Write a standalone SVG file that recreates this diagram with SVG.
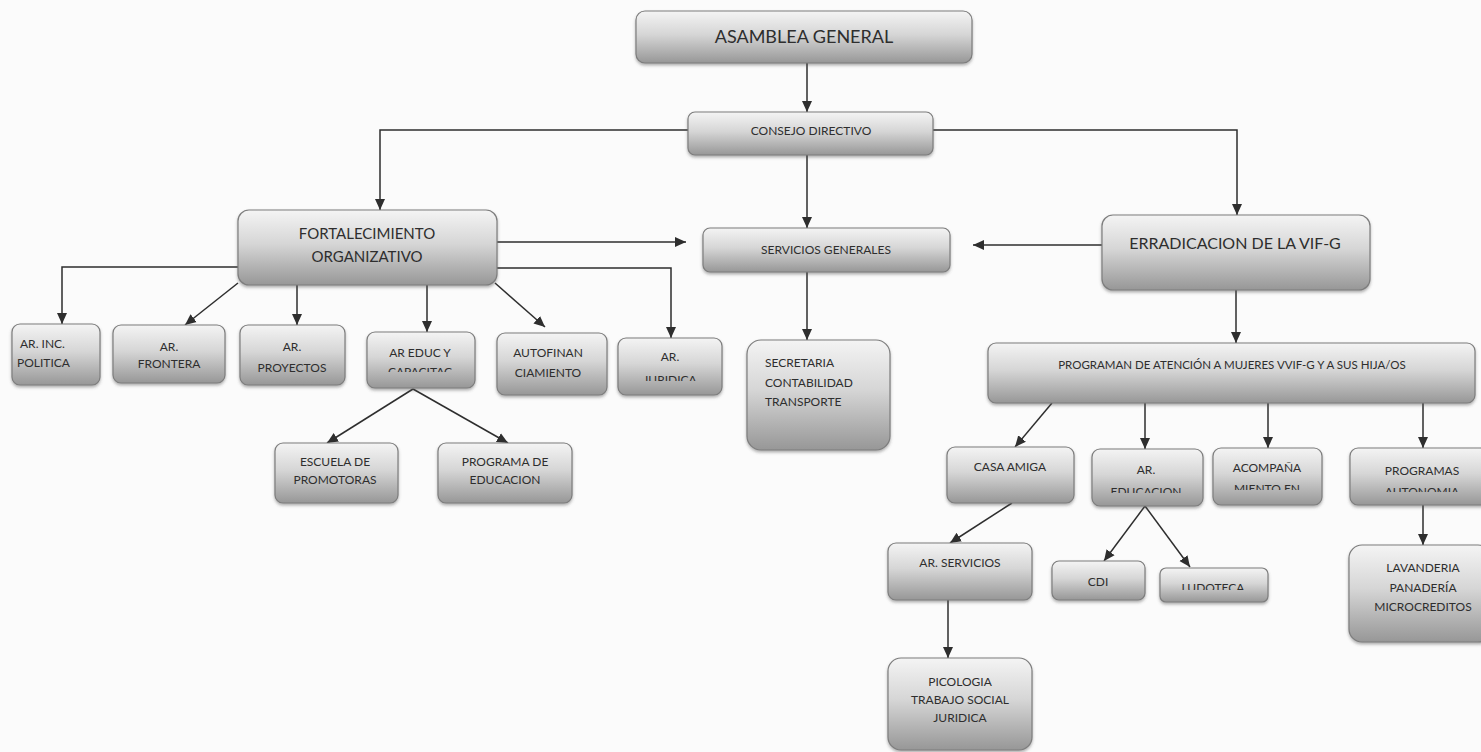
<svg xmlns="http://www.w3.org/2000/svg" width="1481" height="752" viewBox="0 0 1481 752">
<defs>
<linearGradient id="g" x1="0" y1="0" x2="0" y2="1">
<stop offset="0" stop-color="#f4f4f4"/>
<stop offset="0.45" stop-color="#d6d6d6"/>
<stop offset="1" stop-color="#979797"/>
</linearGradient>
<filter id="sh" x="-10%" y="-10%" width="120%" height="130%">
<feDropShadow dx="0" dy="2" stdDeviation="1.5" flood-color="#555" flood-opacity="0.45"/>
</filter>
<marker id="ah" markerUnits="userSpaceOnUse" markerWidth="12" markerHeight="12" refX="11" refY="5" orient="auto" viewBox="0 0 12 10">
<path d="M0,0 L11,5 L0,10 z" fill="#2e2e2e"/>
</marker>
<clipPath id="c-educ"><rect x="367" y="332" width="108" height="40"/></clipPath>
<clipPath id="c-jur"><rect x="618" y="338" width="104" height="43"/></clipPath>
<clipPath id="c-aredu"><rect x="1092" y="449" width="111" height="44"/></clipPath>
<clipPath id="c-acomp"><rect x="1213" y="448" width="109" height="42"/></clipPath>
<clipPath id="c-aut"><rect x="1350" y="448" width="131" height="44"/></clipPath>
<clipPath id="c-ludo"><rect x="1160" y="568" width="108" height="22"/></clipPath>
</defs>
<style>
.box{fill:url(#g);stroke:#7d7d7d;stroke-width:1.2;filter:url(#sh)}
.t{font-family:Lato,"Open Sans","Liberation Sans",sans-serif;fill:#2e2e2e;text-anchor:middle;font-size:12px}
.tl{text-anchor:start}
.c{fill:none;stroke:#2e2e2e;stroke-width:1.5;marker-end:url(#ah)}
</style>
<rect width="1481" height="752" fill="#fbfbfb"/>

<g id="connectors">
<path class="c" d="M807,63 V112"/>
<path class="c" d="M688,130 H380 V210"/>
<path class="c" d="M933,130 H1237 V215"/>
<path class="c" d="M807,155 V228"/>
<path class="c" d="M497,242 H686"/>
<path class="c" d="M1102,245 H973"/>
<path class="c" d="M238,267 H62 V324"/>
<path class="c" d="M238,283 L185,325"/>
<path class="c" d="M297,285 V325"/>
<path class="c" d="M427,285 V332"/>
<path class="c" d="M495,283 L545,327"/>
<path class="c" d="M497,268 H671 V338"/>
<path class="c" d="M807,272 V340"/>
<path class="c" d="M413,389 L327,443"/>
<path class="c" d="M413,389 L508,443"/>
<path class="c" d="M1236,290 V343"/>
<path class="c" d="M1052,403 L1015,447"/>
<path class="c" d="M1145,403 V449"/>
<path class="c" d="M1268,403 V448"/>
<path class="c" d="M1423,403 V448"/>
<path class="c" d="M1012,503 L950,543"/>
<path class="c" d="M1145,506 L1104,561"/>
<path class="c" d="M1145,506 L1190,567"/>
<path class="c" d="M1423,505 V545"/>
<path class="c" d="M948,600 V658"/>
</g>

<g id="asamblea"><rect class="box" x="636" y="11" width="336" height="52" rx="9"/><text class="t" x="804" y="43" style="font-size:18px">ASAMBLEA GENERAL</text></g>
<g id="consejo"><rect class="box" x="688" y="112" width="245" height="43" rx="7"/><text class="t" x="811" y="135">CONSEJO DIRECTIVO</text></g>
<g id="fortalecimiento"><rect class="box" x="238" y="210" width="259" height="75" rx="11"/><text class="t" x="367" y="239" style="font-size:15px">FORTALECIMIENTO</text><text class="t" x="367" y="262" style="font-size:15px">ORGANIZATIVO</text></g>
<g id="servicios"><rect class="box" x="703" y="228" width="247" height="44" rx="7"/><text class="t" x="826" y="254">SERVICIOS GENERALES</text></g>
<g id="erradicacion"><rect class="box" x="1102" y="215" width="268" height="75" rx="11"/><text class="t" x="1235" y="249" style="font-size:16px">ERRADICACION DE LA VIF-G</text></g>

<g id="ar-inc"><rect class="box" x="12" y="324" width="88" height="61" rx="8"/><text class="t tl" x="20" y="348">AR. INC.</text><text class="t tl" x="17" y="367">POLITICA</text></g>
<g id="ar-frontera"><rect class="box" x="113" y="325" width="112" height="58" rx="8"/><text class="t" x="169" y="351">AR.</text><text class="t" x="169" y="368">FRONTERA</text></g>
<g id="ar-proyectos"><rect class="box" x="240" y="325" width="105" height="60" rx="8"/><text class="t" x="292" y="351">AR.</text><text class="t" x="292" y="372">PROYECTOS</text></g>
<g id="ar-educ"><rect class="box" x="367" y="332" width="108" height="56" rx="8"/><text class="t" x="420" y="357">AR EDUC Y</text><text class="t" x="420" y="376" clip-path="url(#c-educ)">CAPACITAC</text></g>
<g id="autofinanciamiento"><rect class="box" x="497" y="333" width="110" height="62" rx="8"/><text class="t" x="548" y="357">AUTOFINAN</text><text class="t" x="548" y="377">CIAMIENTO</text></g>
<g id="ar-juridica"><rect class="box" x="618" y="338" width="104" height="57" rx="8"/><text class="t" x="670" y="361">AR.</text><text class="t" x="670" y="384" clip-path="url(#c-jur)">JURIDICA</text></g>
<g id="secretaria"><rect class="box" x="747" y="340" width="143" height="110" rx="14"/><text class="t tl" x="765" y="367">SECRETARIA</text><text class="t tl" x="765" y="387">CONTABILIDAD</text><text class="t tl" x="765" y="406">TRANSPORTE</text></g>
<g id="escuela"><rect class="box" x="275" y="443" width="123" height="60" rx="8"/><text class="t" x="335" y="466">ESCUELA DE</text><text class="t" x="335" y="484">PROMOTORAS</text></g>
<g id="programa-educacion"><rect class="box" x="438" y="443" width="134" height="60" rx="8"/><text class="t" x="505" y="466">PROGRAMA DE</text><text class="t" x="505" y="484">EDUCACION</text></g>

<g id="programan"><rect class="box" x="988" y="343" width="487" height="60" rx="8"/><text class="t" x="1232" y="369" style="font-size:11.5px">PROGRAMAN DE ATENCIÓN A MUJERES VVIF-G Y A SUS HIJA/OS</text></g>
<g id="casa-amiga"><rect class="box" x="947" y="447" width="127" height="56" rx="8"/><text class="t" x="1010" y="471">CASA AMIGA</text></g>
<g id="ar-educacion"><rect class="box" x="1092" y="449" width="111" height="57" rx="8"/><text class="t" x="1146" y="474">AR.</text><text class="t" x="1146" y="496" clip-path="url(#c-aredu)">EDUCACION</text></g>
<g id="acompanamiento"><rect class="box" x="1213" y="448" width="109" height="57" rx="8"/><text class="t" x="1267" y="472">ACOMPAÑA</text><text class="t" x="1267" y="493" clip-path="url(#c-acomp)">MIENTO EN</text></g>
<g id="programas-autonomia"><rect class="box" x="1350" y="448" width="140" height="57" rx="8"/><text class="t" x="1422" y="475">PROGRAMAS</text><text class="t" x="1422" y="496" clip-path="url(#c-aut)">AUTONOMIA</text></g>
<g id="ar-servicios"><rect class="box" x="888" y="543" width="144" height="57" rx="8"/><text class="t" x="960" y="567">AR. SERVICIOS</text></g>
<g id="cdi"><rect class="box" x="1052" y="561" width="93" height="39" rx="7"/><text class="t" x="1098" y="586">CDI</text></g>
<g id="ludoteca"><rect class="box" x="1160" y="568" width="108" height="34" rx="6"/><text class="t" x="1213" y="592" clip-path="url(#c-ludo)">LUDOTECA</text></g>
<g id="lavanderia"><rect class="box" x="1349" y="545" width="142" height="97" rx="13"/><text class="t" x="1423" y="572">LAVANDERIA</text><text class="t" x="1423" y="592">PANADERÍA</text><text class="t" x="1423" y="611">MICROCREDITOS</text></g>
<g id="picologia"><rect class="box" x="888" y="658" width="144" height="92" rx="13"/><text class="t" x="960" y="686">PICOLOGIA</text><text class="t" x="960" y="704">TRABAJO  SOCIAL</text><text class="t" x="960" y="722">JURIDICA</text></g>
</svg>
